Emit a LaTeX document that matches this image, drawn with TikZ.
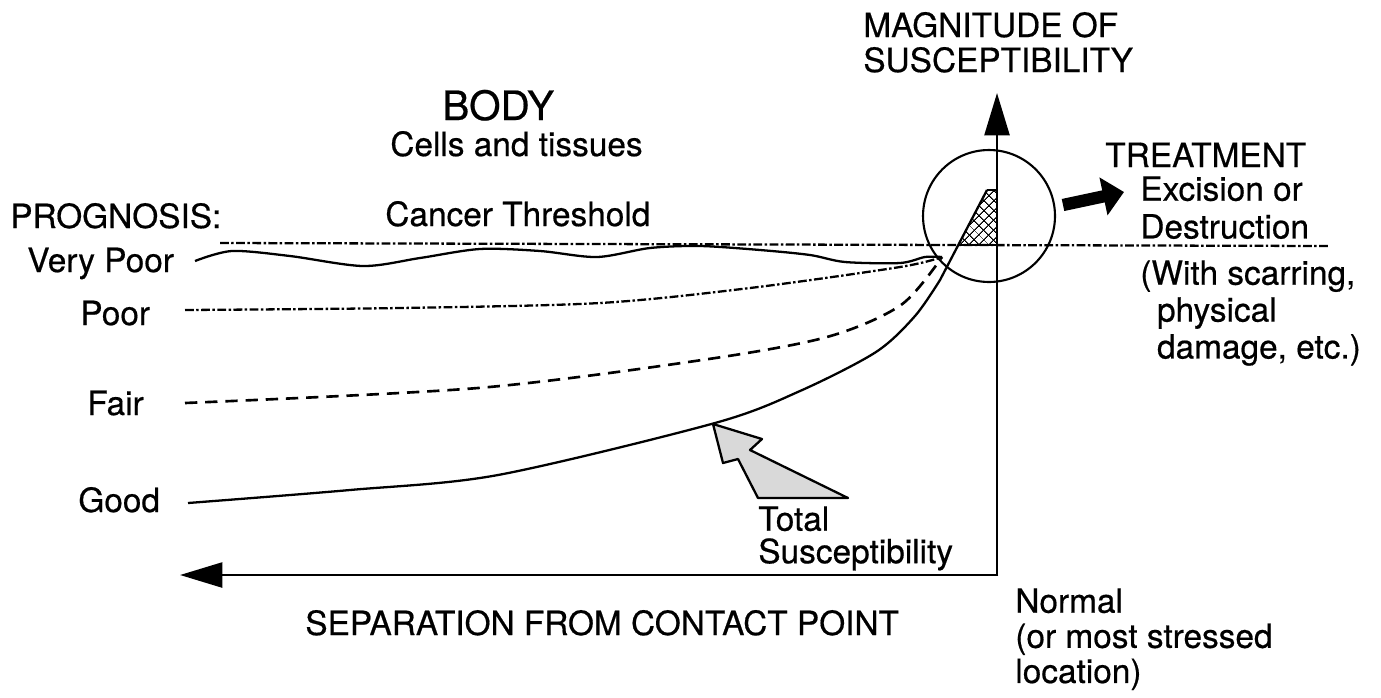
\documentclass[tikz,border=0pt]{standalone}
\usepackage{fontspec}
\setmainfont{TeX Gyre Heros}[FakeBold=0.5]
\usetikzlibrary{arrows.meta,patterns.meta}

\begin{document}
\begin{tikzpicture}[x=.02cm,y=-.02cm,
 lab/.style={font=\fontsize{19}{20}\selectfont,inner sep=0pt,anchor=base west},
 blk/.style={lab,align=left,anchor=north west},
 axis/.style={line width=1.6pt,-{Triangle[length=8.5mm,width=5mm]}},
 crv/.style={line width=1.3pt,line join=round},
 dashdot/.style={crv,dash pattern=on 5pt off 1.4pt on 1.4pt off 1.4pt},
 hatch/.style={pattern={Lines[angle=#1,distance=4pt,line width=.6pt]}}]
\useasboundingbox (0,0) rectangle (1381,697);
\coordinate (orig) at (997,575);
\coordinate (ytip) at (997,93);
\coordinate (xtip) at (180,575);
\coordinate (conv) at (942,257);
\coordinate (thr0) at (220,243);
\coordinate (thr1) at (1330,246);
\coordinate (tr0) at (1063,205);
\coordinate (tr1) at (1124,192);
\node[lab] (mag) at (863,37) {MAGNITUDE OF};
\node[lab] (mag2) at (863,72) {SUSCEPTIBILITY};
\node[lab,font=\fontsize{23}{24}\selectfont] (body) at (442,120) {BODY};
\node[lab] (cells) at (390,156) {Cells and tissues};
\node[lab] (prog) at (10,228) {PROGNOSIS:};
\node[lab] (thr) at (385,226) {Cancer Threshold};
\node[lab] (vpoor) at (27,272) {Very Poor};
\node[lab] (poor) at (80,325) {Poor};
\node[lab] (fair) at (87,415) {Fair};
\node[lab] (good) at (78,512) {Good};
\node[lab] (treat) at (1105,167) {TREATMENT};
\node[blk,font=\fontsize{19}{21.5}\selectfont] (excis) at (1140,176) {Excision or\\Destruction};
\node[blk,font=\fontsize{19}{21}\selectfont] (scar) at (1140,260) {(With scarring,\\\hspace*{.5em}physical\\\hspace*{.5em}damage, etc.)};
\node[blk,font=\fontsize{19}{18.5}\selectfont] (total) at (758,506) {Total\\Susceptibility};
\node[lab] (sep) at (305,635) {SEPARATION FROM CONTACT POINT};
\node[blk] (norm) at (1015,588) {Normal\\(or most stressed\\location)};
\node[draw,circle,line width=1.2pt,minimum size=2.64cm,inner sep=0pt] (circ) at (989,216) {};
\draw[dashdot] (thr0) -- (thr1);
\fill[hatch=45] (987,190) -- (997,190) -- (997,245) -- (958,245) -- cycle;
\fill[hatch=-45] (987,190) -- (997,190) -- (997,245) -- (958,245) -- cycle;
\draw[crv] (987,190) -- (997,190) -- (997,245) -- (958,245);
\draw[crv] plot[smooth] coordinates {(195,261) (232,251) (290,256) (363,266) (420,258) (480,249)
 (540,251) (597,257) (650,248) (700,246) (760,250) (810,255) (845,262) (900,263) (925,257) (conv)};
\draw[dashdot] plot[smooth] coordinates {(185,310) (400,308) (600,303) (750,288) (900,267) (conv)};
\draw[crv,line width=1.5pt,dash pattern=on 7pt off 4.5pt] plot[smooth] coordinates {(185,403) (478,388) (702,360)
 (827,337) (901,305) (conv)};
\draw[crv] plot[smooth] coordinates {(188,503) (350,490) (498,475) (715,423) (800,391) (876,352)
 (915,316) (940,280)} -- (987,190);
\draw[crv,fill=black!15] (713,424) -- (762,439) -- (750,450) -- (848,498) -- (758,498)
 -- (738,459) -- (723,463) -- cycle;
\draw[axis] (orig) -- (ytip);
\draw[axis] ([xshift=.8pt]orig) -- (xtip);
\draw[line width=7pt,-{Triangle[length=4.2mm,width=7.5mm]}] (tr0) -- (tr1);
\end{tikzpicture}
\end{document}
